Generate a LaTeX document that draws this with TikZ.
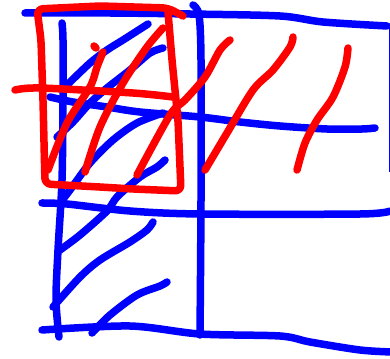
\documentclass[tikz,border=0pt]{standalone}
\begin{document}
\begin{tikzpicture}[x=1pt,y=-1pt,
  bl/.style={draw={rgb,255:red,0;green,0;blue,255},line width=7.5pt,line cap=round,line join=round},
  rd/.style={draw={rgb,255:red,255;green,0;blue,0},line width=7.5pt,line cap=round,line join=round}]
\useasboundingbox (0,0) rectangle (390,358);
% blue grid
\draw[bl] plot[smooth] coordinates {(25,13) (110,13) (190,14) (280,16) (323,22) (387,26)};
\draw[bl] plot[smooth] coordinates {(62,23) (63,40) (63,100) (62,180) (58,250) (56,300) (59,337)};
\draw[bl] plot[smooth] coordinates {(193,5) (199,15) (201,60) (201,200) (200,335)};
\draw[bl] plot[smooth] coordinates {(50,97) (73,102) (107,107) (140,112) (200,117) (240,122) (280,126) (327,129) (362,129) (375,128)};
\draw[bl] plot[smooth] coordinates {(42,203) (67,204) (130,211) (200,214) (360,214) (390,211)};
\draw[bl] plot[smooth] coordinates {(42,330) (130,326) (200,334) (280,336) (310,342) (360,350) (392,352)};
\draw[draw={rgb,255:red,0;green,0;blue,255},line width=1.2pt] (389.5,27) -- (389.5,172);
% blue hatching
\draw[bl] plot[smooth] coordinates {(148,24) (123,40) (107,50) (90,63) (67,85)};
\draw[bl] plot[smooth] coordinates {(163,48) (150,53) (130,70) (107,88) (90,103) (73,122) (57,137)};
\draw[bl] plot[smooth] coordinates {(163,113) (137,123) (113,140) (90,163) (70,190) (60,203)};
\draw[bl] plot[smooth] coordinates {(165,160) (157,167) (140,177) (117,197) (107,211) (80,235) (60,250)};
\draw[bl] plot[smooth] coordinates {(153,222) (147,230) (130,242) (100,260) (80,277) (53,307)};
\draw[bl] plot[smooth] coordinates {(167,282) (160,286) (137,295) (110,315) (92,333)};
% red
\draw[rd,rounded corners=6pt] (183,16) -- (168,8) -- (100,6) -- (37,9) -- (41,40) -- (43,100) -- (45,184) -- (100,187) -- (133,189) -- (181,191) -- (178,120) -- (172,60) -- (168,12);
\draw[rd] plot[smooth] coordinates {(15,90) (40,88) (133,93) (173,97)};
\draw[rd] (94,46) -- (96,48);
\draw[rd] plot[smooth] coordinates {(103,52) (97,67) (90,87) (67,123) (48,170)};
\draw[rd] plot[smooth] coordinates {(163,28) (147,47) (123,83) (100,127) (85,172)};
\draw[rd] plot[smooth] coordinates {(230,40) (220,50) (205,77) (185,100) (170,115) (137,175)};
\draw[rd] plot[smooth] coordinates {(293,37) (290,47) (273,70) (253,90) (227,133) (205,170)};
\draw[rd] plot[smooth] coordinates {(348,48) (345,67) (333,97) (317,120) (305,143) (297,170)};
\end{tikzpicture}
\end{document}
